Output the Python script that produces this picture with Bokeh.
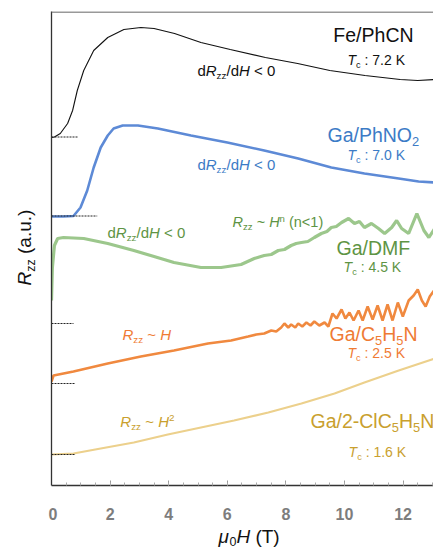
import math
from bokeh.plotting import figure
from bokeh.layouts import row, column
from bokeh.models import Label, Span, FixedTicker, Range1d
from bokeh.embed import file_html
from bokeh.resources import INLINE

# ---------------- data ----------------
# field values mu0H in tesla, resistance in arbitrary units (curves offset vertically)
fe_H = [0.00, 0.10, 0.30, 0.55, 0.72, 0.88, 1.10, 1.44, 1.92, 2.47, 3.05, 3.50, 4.20, 5.10,
        6.10, 7.30, 8.40, 9.50, 10.70, 11.90, 12.50, 13.10]
fe_R = [34.8, 34.85, 35.2, 36.2, 37.5, 39.5, 41.5, 43.5, 44.8, 45.6, 45.8, 45.7, 45.2, 44.3,
        43.6, 42.8, 42.2, 41.5, 41.0, 40.6, 40.5, 40.6]

no2_H = [0.00, 0.40, 0.75, 0.99, 1.22, 1.44, 1.68, 1.92, 2.12, 2.43, 2.95, 3.63, 4.76, 6.00,
         7.26, 8.42, 9.55, 10.68, 11.85, 12.53, 13.10]
no2_R = [26.9, 26.9, 26.95, 27.8, 29.5, 31.8, 33.8, 35.0, 35.7, 36.0, 36.0, 35.7, 35.0, 34.3,
         33.5, 32.7, 31.8, 31.2, 30.7, 30.4, 30.3]

dmf_H = [0.00, 0.03, 0.10, 0.21, 0.41, 1.10, 1.92, 2.81, 3.50, 4.18, 5.10, 5.79, 6.47, 6.92,
         7.26, 7.50, 7.74, 7.95, 8.18, 8.35, 8.53, 8.75, 8.97, 9.21, 9.40, 9.55, 9.72, 9.90,
         10.14, 10.34, 10.51, 10.68, 10.92, 11.16, 11.37, 11.61, 11.78, 11.95, 12.19, 12.47,
         12.71, 12.88, 13.08]
dmf_R = [18.5, 21.8, 24.0, 24.7, 24.8, 24.7, 24.2, 23.5, 22.9, 22.3, 21.8, 21.8, 22.1, 22.7,
         23.0, 23.1, 23.5, 23.6, 24.0, 24.2, 24.3, 24.4, 24.8, 25.2, 25.4, 25.8, 25.9, 26.3,
         26.7, 26.2, 26.4, 25.8, 26.2, 25.7, 25.2, 25.8, 26.5, 25.7, 25.2, 27.2,
         25.5, 24.8, 25.7]

pyr_H = [0.00, 0.07, 0.75, 1.92, 3.05, 4.18, 5.34, 6.13, 6.71, 6.99, 7.26, 7.50, 7.67, 7.84,
         7.95, 8.08, 8.18, 8.32, 8.42, 8.56, 8.70, 8.84, 8.97, 9.14, 9.32, 9.45, 9.59, 9.73,
         9.90, 10.03, 10.17, 10.31, 10.48, 10.62, 10.79, 10.96, 11.13, 11.30, 11.47, 11.64,
         11.82, 11.99, 12.19, 12.36, 12.50, 12.64, 12.77, 12.91, 13.08]
pyr_R = [10.4, 11.0, 11.4, 12.2, 12.9, 13.5, 14.2, 14.5, 14.9, 15.1, 15.2, 15.5, 15.4, 15.8,
         16.2, 15.8, 16.1, 15.8, 16.2, 15.9, 16.3, 16.0, 16.4, 16.0, 16.3, 15.9, 17.2, 16.7,
         17.6, 16.7, 17.3, 16.5, 17.5, 16.5, 17.9, 16.6, 18.0, 16.5, 18.1, 16.5,
         18.3, 16.9, 18.5, 19.0, 19.6, 18.5, 17.9, 18.9, 19.6]

cl_H = [0.00, 0.75, 1.68, 2.81, 3.97, 5.10, 6.23, 7.40, 8.53, 9.66, 10.68, 11.85, 13.08]
cl_R = [3.1, 3.2, 3.7, 4.3, 5.1, 5.8, 6.5, 7.3, 8.2, 9.2, 10.3, 11.5, 12.7]

# zero-resistance reference levels (short dashed marks) and their lengths
zero_levels = [34.85, 26.95, 16.2, 10.2, 3.1]
zero_ends = [0.89, 1.56, 0.75, 0.82, 0.82]

x_ticks = [0, 2, 4, 6, 8, 10, 12]

COL_FE = "#111111"
COL_NO2, TXT_NO2 = "#5d8ad6", "#3c7bc6"
COL_DMF, TXT_DMF = "#9cc78c", "#5e9444"
COL_PYR, TXT_PYR = "#f0893f", "#ef7b34"
COL_CL, TXT_CL = "#ecd08c", "#c9a02e"

FONT = "Liberation Sans"
PX_PER_T = 29.3
LEFT_W = 48
MAIN_W = 433 - LEFT_W
TOP_B, BOT_B = 11, 42
MAIN_H = 485 + BOT_B
BOT_H = 550 - MAIN_H
X_END = (MAIN_W - 3) / PX_PER_T
Y_END = (MAIN_H - TOP_B - BOT_B) / 10.0

xr = Range1d(0, X_END)
yr = Range1d(0, Y_END)

p = figure(width=MAIN_W, height=MAIN_H, output_backend="svg", toolbar_location=None,
           x_range=xr, y_range=yr,
           min_border_left=3, min_border_right=0, min_border_top=TOP_B, min_border_bottom=BOT_B)
p.outline_line_color = None
p.grid.visible = False

# axes
xa = p.xaxis[0]
xa.ticker = FixedTicker(ticks=x_ticks, minor_ticks=[i * 0.5 for i in range(0, 28)])
xa.axis_line_color = "#333333"
xa.axis_line_width = 1.3
xa.major_tick_in = 5
xa.major_tick_out = 0
xa.minor_tick_in = 3
xa.minor_tick_out = 0
xa.major_tick_line_color = "#999999"
xa.minor_tick_line_color = "#aaaaaa"
xa.major_label_text_font = FONT
xa.major_label_text_font_size = "16px"
xa.major_label_text_font_style = "bold"
xa.major_label_text_color = "#7d7d7d"
xa.major_label_standoff = 22

ya = p.yaxis[0]
ya.ticker = FixedTicker(ticks=[])
ya.axis_line_color = "#333333"
ya.axis_line_width = 1.3
ya.major_tick_line_color = None
ya.minor_tick_line_color = None

p.add_layout(Span(location=Y_END - 0.06, dimension="width", line_color="#777777", line_width=1.5))

# curves
p.line(cl_H, cl_R, line_color=COL_CL, line_width=2.2)
p.line(pyr_H, pyr_R, line_color=COL_PYR, line_width=2.6)
p.line(dmf_H, dmf_R, line_color=COL_DMF, line_width=3.2)
p.line(no2_H, no2_R, line_color=COL_NO2, line_width=2.6)
p.line(fe_H, fe_R, line_color=COL_FE, line_width=1.1)

p.segment(x0=[0] * len(zero_levels), y0=zero_levels, x1=zero_ends, y1=zero_levels,
          line_color="#222222", line_width=1, line_dash="2 1")

# side figures that carry the axis titles
left = figure(width=LEFT_W, height=MAIN_H, output_backend="svg", toolbar_location=None,
              x_range=Range1d(0, LEFT_W), y_range=yr, x_axis_type=None, y_axis_type=None,
              min_border_left=0, min_border_right=0, min_border_top=TOP_B, min_border_bottom=BOT_B)
left.outline_line_color = None
bottom = figure(width=MAIN_W, height=BOT_H, output_backend="svg", toolbar_location=None,
                x_range=xr, y_range=Range1d(0, BOT_H), x_axis_type=None, y_axis_type=None,
                min_border_left=3, min_border_right=0, min_border_top=0, min_border_bottom=0)
bottom.outline_line_color = None

# ---------------- rich text helper ----------------
CW = {' ': 278, '(': 333, ')': 333, '-': 333, '.': 278, '/': 278, ':': 278, '<': 584, '~': 584,
      'C': 722, 'D': 722, 'F': 611, 'G': 778, 'H': 722, 'K': 667, 'M': 833, 'N': 722, 'O': 778,
      'P': 667, 'R': 722, 'T': 611, 'a': 556, 'c': 500, 'd': 556, 'e': 556, 'h': 556, 'l': 222,
      'n': 556, 'u': 556, 'z': 500, 'μ': 576}
LIFT = 0.37  # baseline correction (fraction of font size)


def tw(t, s):
    return sum(CW.get(ch, 556) for ch in t) * s / 1000.0


def runs(fig, x, y, parts, size, color, angle=0.0, sub_drop=0.2):
    off = 0.0
    for txt, st in parts:
        small = st in ("sub", "sup")
        s = size * 0.66 if small else size
        shift = -sub_drop * size if st == "sub" else (0.4 * size if st == "sup" else 0.0)
        shift += LIFT * s
        style = "italic" if st == "i" else "normal"
        lead = len(txt) - len(txt.lstrip(" "))
        off += tw(" " * lead, s)
        core = txt.strip(" ")
        if core:
            kw = dict(x=x, y=y, text=core, text_font=FONT, text_font_size=f"{s:.1f}px",
                      text_color=color, text_font_style=style, text_baseline="alphabetic",
                      text_align="left")
            if angle == 0:
                kw.update(x_offset=off, y_offset=shift)
            else:
                kw.update(angle=angle, x_offset=-shift, y_offset=off)
            fig.add_layout(Label(**kw))
        off += tw(txt.lstrip(" "), s)


def tc(x, y, val, color):
    runs(p, x, y, [("T", "i"), ("c", "sub"), (" : " + val, "n")], 14, color)


def drdh(x, y, color):
    runs(p, x, y, [("d", "n"), ("R", "i"), ("zz", "sub"), ("/d", "n"), ("H", "i"), (" < 0", "n")], 15, color)


# Fe/PhCN
runs(p, 9.62, 44.3, [("Fe/PhCN", "n")], 19.5, COL_FE)
tc(10.10, 42.0, "7.2 K", COL_FE)
drdh(4.98, 40.9, COL_FE)
# Ga/PhNO2
runs(p, 9.42, 34.3, [("Ga/PhNO", "n"), ("2", "sub")], 19.5, TXT_NO2)
tc(10.10, 32.5, "7.0 K", TXT_NO2)
drdh(4.98, 31.5, TXT_NO2)
# Ga/DMF
runs(p, 9.73, 23.0, [("Ga/DMF", "n")], 19.5, TXT_DMF)
tc(9.97, 21.3, "4.5 K", TXT_DMF)
drdh(1.91, 24.7, TXT_DMF)
runs(p, 6.18, 25.8, [("R", "i"), ("zz", "sub"), (" ~ ", "n"), ("H", "i"), ("n", "sup"), (" (n<1)", "n")], 14.5, TXT_DMF)
# Ga/C5H5N
runs(p, 9.49, 14.4, [("Ga/C", "n"), ("5", "sub"), ("H", "n"), ("5", "sub"), ("N", "n")], 19.5, TXT_PYR)
tc(10.10, 12.7, "2.5 K", TXT_PYR)
runs(p, 2.42, 14.5, [("R", "i"), ("zz", "sub"), (" ~ ", "n"), ("H", "i")], 15, TXT_PYR)
# Ga/2-ClC5H5N
runs(p, 8.84, 5.7, [("Ga/2-ClC", "n"), ("5", "sub"), ("H", "n"), ("5", "sub"), ("N", "n")], 19.5, TXT_CL)
tc(10.14, 2.8, "1.6 K", TXT_CL)
runs(p, 2.35, 5.8, [("R", "i"), ("zz", "sub"), (" ~ ", "n"), ("H", "i"), ("2", "sup")], 15, TXT_CL)

# axis titles
runs(left, 31, 20.0, [("R", "i"), ("zz", "sub"), (" (a.u.)", "n")], 19, "#111111", angle=math.pi / 2)
runs(bottom, 5.70, 6.5, [("μ", "i"), ("0", "sub"), ("H", "i"), (" (T)", "n")], 19, "#111111", sub_drop=0.12)

layout = row(left, column(p, bottom, spacing=0), spacing=0)
open("out.html", "w").write(file_html(layout, INLINE))
